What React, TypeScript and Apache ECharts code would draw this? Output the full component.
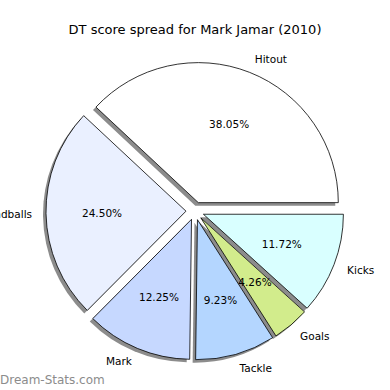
import React, { useEffect, useRef } from "react";
import * as echarts from "echarts";

const categories = ["Hitout", "Handballs", "Mark", "Tackle", "Goals", "Kicks"];
const values = [38.05, 24.5, 12.25, 9.23, 4.26, 11.72];
const colors = ["#ffffff", "#eaf0ff", "#c6d8ff", "#b4d6ff", "#d2ec8c", "#d9ffff"];
const titleText = "DT score spread for Mark Jamar (2010)";
const watermark = "Dream-Stats.com";

const FONT = "DejaVu Sans";
const R = 140;
const CX = 195;
const CY = 211;
const OFFSET = 9;

export default function App() {
  const ref = useRef<HTMLDivElement>(null);
  useEffect(() => {
    if (!ref.current) return;
    const chart = echarts.init(ref.current, undefined, { renderer: "svg" });
    const common = {
      type: "pie",
      startAngle: 0,
      clockwise: false,
      selectedMode: "multiple",
      selectedOffset: OFFSET,
      avoidLabelOverlap: false,
      emphasis: { disabled: true },
      animation: false,
    };
    chart.setOption({
      animation: false,
      title: {
        text: titleText,
        left: "center",
        top: 18,
        textStyle: { fontFamily: FONT, fontSize: 13, fontWeight: "normal", color: "#000" },
      },
      graphic: [
        {
          type: "text",
          x: 0,
          y: 380,
          style: {
            text: watermark,
            fill: "#8c8c8c",
            font: `12px "${FONT}"`,
            verticalAlign: "middle",
            align: "left",
          },
        },
      ],
      series: [
        {
          ...common,
          name: "shadow",
          z: 1,
          silent: true,
          center: [CX - 3, CY + 3],
          radius: [0, R],
          label: { show: false },
          labelLine: { show: false },
          itemStyle: { color: "#8c8c8c", borderWidth: 0 },
          data: values.map((v, i) => ({ name: categories[i], value: v, selected: true })),
        },
        {
          ...common,
          name: "main",
          z: 2,
          center: [CX, CY],
          radius: [0, R],
          label: {
            show: true,
            position: "outside",
            formatter: "{b}",
            fontFamily: FONT,
            fontSize: 10.5,
            color: "#000",
            distanceToLabelLine: 0,
          },
          labelLine: { show: false, length: 14, length2: 0 },
          itemStyle: { borderColor: "#000", borderWidth: 0.8 },
          data: values.map((v, i) => ({
            name: categories[i],
            value: v,
            selected: true,
            itemStyle: { color: colors[i] },
          })),
        },
        {
          ...common,
          name: "pct",
          z: 3,
          silent: true,
          center: [CX, CY],
          radius: [0, R * 1.2 - 6],
          label: {
            show: true,
            position: "inside",
            formatter: (p: any) => `${Number(p.value).toFixed(2)}%`,
            fontFamily: FONT,
            fontSize: 10.5,
            color: "#000",
          },
          labelLine: { show: false },
          itemStyle: { color: "rgba(0,0,0,0)", borderWidth: 0 },
          data: values.map((v, i) => ({ name: categories[i], value: v, selected: true })),
        },
      ],
    });
    return () => chart.dispose();
  }, []);
  return (
    <div
      ref={ref}
      style={{ position: "absolute", left: 0, top: 0, width: 390, height: 390, background: "#fff" }}
    />
  );
}
